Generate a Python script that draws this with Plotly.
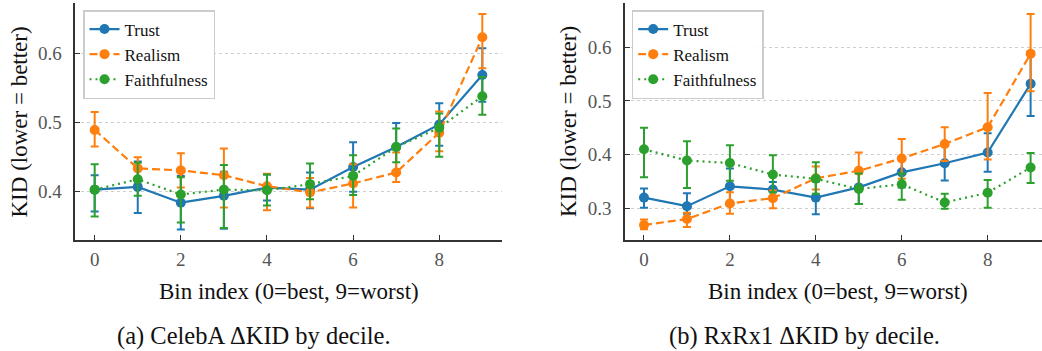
import plotly.graph_objects as go

bins = list(range(10))
series_names = ["Trust", "Realism", "Faithfulness"]
colors = ["#1f77b4", "#ff7f0e", "#2ca02c"]
dashes = ["solid", "8px,4px", "2px,4px"]

# (a) CelebA
celeba_trust = [0.402, 0.406, 0.383, 0.393, 0.405, 0.402, 0.435, 0.464, 0.497, 0.569]
celeba_trust_up = [0.021, 0.037, 0.039, 0.035, 0.019, 0.025, 0.036, 0.035, 0.031, 0.039]
celeba_trust_dn = [0.032, 0.038, 0.039, 0.048, 0.019, 0.027, 0.036, 0.038, 0.031, 0.039]
celeba_real = [0.489, 0.433, 0.430, 0.423, 0.407, 0.398, 0.411, 0.427, 0.485, 0.624]
celeba_real_up = [0.026, 0.016, 0.025, 0.039, 0.018, 0.021, 0.028, 0.029, 0.031, 0.034]
celeba_real_dn = [0.024, 0.015, 0.025, 0.047, 0.035, 0.022, 0.035, 0.014, 0.027, 0.045]
celeba_faith = [0.402, 0.417, 0.395, 0.402, 0.401, 0.410, 0.422, 0.464, 0.492, 0.538]
celeba_faith_up = [0.037, 0.024, 0.025, 0.036, 0.023, 0.030, 0.030, 0.027, 0.021, 0.028]
celeba_faith_dn = [0.039, 0.024, 0.041, 0.056, 0.022, 0.022, 0.028, 0.022, 0.042, 0.027]

# (b) RxRx1
rxrx_trust = [0.320, 0.304, 0.341, 0.335, 0.320, 0.339, 0.367, 0.384, 0.404, 0.532]
rxrx_trust_up = [0.017, 0.024, 0.033, 0.014, 0.030, 0.027, 0.028, 0.032, 0.036, 0.060]
rxrx_trust_dn = [0.019, 0.014, 0.033, 0.014, 0.031, 0.031, 0.028, 0.032, 0.036, 0.060]
rxrx_real = [0.269, 0.280, 0.309, 0.319, 0.356, 0.370, 0.393, 0.420, 0.451, 0.588]
rxrx_real_up = [0.010, 0.012, 0.021, 0.014, 0.022, 0.034, 0.036, 0.031, 0.064, 0.074]
rxrx_real_dn = [0.008, 0.015, 0.019, 0.019, 0.021, 0.034, 0.038, 0.032, 0.060, 0.070]
rxrx_faith = [0.410, 0.389, 0.3845, 0.363, 0.355, 0.336, 0.345, 0.311, 0.329, 0.376]
rxrx_faith_up = [0.040, 0.036, 0.033, 0.036, 0.031, 0.029, 0.020, 0.016, 0.024, 0.027]
rxrx_faith_dn = [0.052, 0.051, 0.033, 0.033, 0.028, 0.028, 0.029, 0.012, 0.028, 0.029]

panels = [
    ("x", "y", "legend", [
        (celeba_trust, celeba_trust_up, celeba_trust_dn),
        (celeba_real, celeba_real_up, celeba_real_dn),
        (celeba_faith, celeba_faith_up, celeba_faith_dn),
    ]),
    ("x2", "y2", "legend2", [
        (rxrx_trust, rxrx_trust_up, rxrx_trust_dn),
        (rxrx_real, rxrx_real_up, rxrx_real_dn),
        (rxrx_faith, rxrx_faith_up, rxrx_faith_dn),
    ]),
]

FONT = "Liberation Serif"
W, H = 1042, 351

fig = go.Figure()
for xa, ya, lg, data in panels:
    for name, col, dash, (vals, up, dn) in zip(series_names, colors, dashes, data):
        fig.add_trace(go.Scatter(
            x=bins, y=vals, name=name, mode="lines+markers",
            xaxis=xa, yaxis=ya, legend=lg,
            line=dict(color=col, width=2.2, dash=dash),
            marker=dict(color=col, size=10),
            error_y=dict(type="data", array=up, arrayminus=dn, symmetric=False,
                         color=col, thickness=2, width=4),
        ))

def px_x(p):
    return p / W

def px_y(p):
    return 1 - p / H

axis_common = dict(
    showline=True, linecolor="#333333", linewidth=1.6,
    ticks="inside", ticklen=5, tickwidth=1.3, tickcolor="#333333",
    tickfont=dict(family=FONT, size=19, color="#555555"),
    zeroline=False, mirror=False,
)

ydom = [px_y(240), px_y(3.3)]
legend_common = dict(
    xanchor="left", yanchor="top",
    bgcolor="rgba(255,255,255,0.9)", bordercolor="#cccccc", borderwidth=1.5,
    font=dict(family=FONT, size=17, color="#111111"),
    itemwidth=30, tracegroupgap=0,
)
grid = dict(showgrid=True, gridcolor="#cfcfcf", griddash="dot", gridwidth=1)
fig.update_layout(
    width=W, height=H,
    margin=dict(l=0, r=0, t=0, b=0),
    paper_bgcolor="white", plot_bgcolor="white",
    showlegend=True,
    font=dict(family=FONT, color="#222222"),
    xaxis=dict(domain=[px_x(75.3), px_x(501.7)], range=[-0.45, 9.45],
               tickvals=[0, 2, 4, 6, 8], showgrid=False, anchor="y",
               ticklabelstandoff=1, **axis_common),
    yaxis=dict(domain=ydom, range=[0.3286, 0.6735], tickvals=[0.4, 0.5, 0.6],
               tickformat=".1f", anchor="x", ticklabelstandoff=8, **grid, **axis_common),
    xaxis2=dict(domain=[px_x(625), 1.0], range=[-0.442, 9.265],
                tickvals=[0, 2, 4, 6, 8], showgrid=False, anchor="y2",
                ticklabelstandoff=1, **axis_common),
    yaxis2=dict(domain=ydom, range=[0.241, 0.682], tickvals=[0.3, 0.4, 0.5, 0.6],
                tickformat=".1f", anchor="x2", ticklabelstandoff=8, **grid, **axis_common),
    legend=dict(x=px_x(83), y=px_y(10), **legend_common),
    legend2=dict(x=px_x(631.7), y=px_y(10), **legend_common),
)

annots = [
    dict(text="Bin index (0=best, 9=worst)", x=px_x(288.5), y=px_y(291), size=23),
    dict(text="Bin index (0=best, 9=worst)", x=px_x(837.5), y=px_y(291), size=23),
    dict(text="(a) CelebA ΔKID by decile.", x=px_x(254), y=px_y(336), size=24.5),
    dict(text="(b) RxRx1 ΔKID by decile.", x=px_x(804), y=px_y(336), size=24.5),
]
for a in annots:
    fig.add_annotation(text=a["text"], x=a["x"], y=a["y"], xref="paper", yref="paper",
                       xanchor="center", yanchor="middle", showarrow=False,
                       font=dict(family=FONT, size=a["size"], color="#111111"))
for xc in (18.5, 568):
    fig.add_annotation(text="KID (lower = better)", x=px_x(xc), y=px_y(122), xref="paper",
                       yref="paper", xanchor="center", yanchor="middle", showarrow=False,
                       textangle=-90, font=dict(family=FONT, size=23, color="#111111"))

fig.write_html("out.html", config={"displayModeBar": False},
               post_script="document.body.style.margin='0';document.body.style.overflow='hidden';")
